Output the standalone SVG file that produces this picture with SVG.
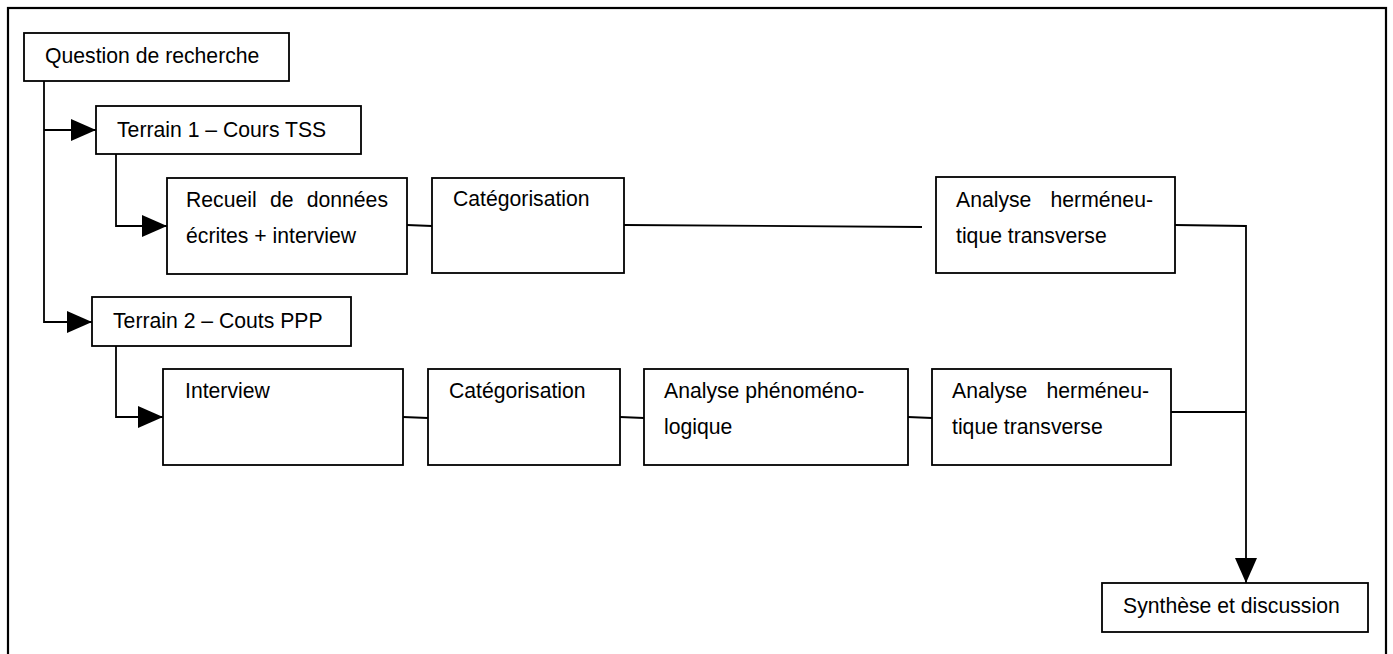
<svg xmlns="http://www.w3.org/2000/svg" width="1393" height="654" viewBox="0 0 1393 654">
<style>
.box{fill:#fff;stroke:#000;stroke-width:1.8}
.t{font-family:"Liberation Sans",Arial,sans-serif;font-size:21.2px;fill:#000}
.c{fill:none;stroke:#000;stroke-width:1.8}
</style>
<defs>
<marker id="ah" markerUnits="userSpaceOnUse" markerWidth="25" markerHeight="22" refX="25" refY="11" orient="auto">
<path d="M0,0 L25,11 L0,22 Z" fill="#000"/>
</marker>
</defs>
<rect x="0" y="0" width="1393" height="654" fill="#fff"/>
<rect x="8" y="8" width="1378" height="670" fill="none" stroke="#000" stroke-width="2.2"/>
<g id="connectors">
<polyline class="c" points="44,81 44,322 92,322" marker-end="url(#ah)"/>
<line class="c" x1="44" y1="130" x2="96" y2="130" marker-end="url(#ah)"/>
<polyline class="c" points="116,154 116,226 167,226" marker-end="url(#ah)"/>
<polyline class="c" points="116,346 116,417 163,417" marker-end="url(#ah)"/>
<line class="c" x1="407" y1="225" x2="432" y2="226"/>
<line class="c" x1="624" y1="225" x2="922" y2="227"/>
<line class="c" x1="403" y1="417" x2="428" y2="418"/>
<line class="c" x1="620" y1="417" x2="644" y2="418"/>
<line class="c" x1="908" y1="417" x2="932" y2="418"/>
<polyline class="c" points="1175,225 1246,226 1246,583" marker-end="url(#ah)"/>
<line class="c" x1="1171" y1="412" x2="1246" y2="412"/>
</g>
<g id="question">
<rect class="box" x="24" y="33" width="265" height="48"/>
<text class="t" x="45" y="63">Question de recherche</text>
</g>
<g id="terrain1">
<rect class="box" x="96" y="106" width="265" height="48"/>
<text class="t" x="117" y="137">Terrain 1 – Cours TSS</text>
</g>
<g id="recueil">
<rect class="box" x="167" y="178" width="240" height="96"/>
<text class="t" y="207"><tspan x="186">Recueil</tspan><tspan x="270">de</tspan><tspan x="388" text-anchor="end">données</tspan></text>
<text class="t" x="186" y="243">écrites + interview</text>
</g>
<g id="categorisation1">
<rect class="box" x="432" y="178" width="192" height="95"/>
<text class="t" x="453" y="206">Catégorisation</text>
</g>
<g id="hermeneutique1">
<rect class="box" x="936" y="177" width="239" height="96"/>
<text class="t" y="207"><tspan x="956">Analyse</tspan><tspan x="1153" text-anchor="end">herméneu-</tspan></text>
<text class="t" x="956" y="243">tique transverse</text>
</g>
<g id="terrain2">
<rect class="box" x="92" y="297" width="259" height="49"/>
<text class="t" x="113" y="328">Terrain 2 – Couts PPP</text>
</g>
<g id="interview">
<rect class="box" x="163" y="369" width="240" height="96"/>
<text class="t" x="185" y="398">Interview</text>
</g>
<g id="categorisation2">
<rect class="box" x="428" y="369" width="192" height="96"/>
<text class="t" x="449" y="398">Catégorisation</text>
</g>
<g id="phenomenologique">
<rect class="box" x="644" y="369" width="264" height="96"/>
<text class="t" x="664" y="398">Analyse phénoméno-</text>
<text class="t" x="664" y="434">logique</text>
</g>
<g id="hermeneutique2">
<rect class="box" x="932" y="369" width="239" height="96"/>
<text class="t" y="398"><tspan x="952">Analyse</tspan><tspan x="1149" text-anchor="end">herméneu-</tspan></text>
<text class="t" x="952" y="434">tique transverse</text>
</g>
<g id="synthese">
<rect class="box" x="1102" y="583" width="266" height="49"/>
<text class="t" x="1123" y="613">Synthèse et discussion</text>
</g>
</svg>
